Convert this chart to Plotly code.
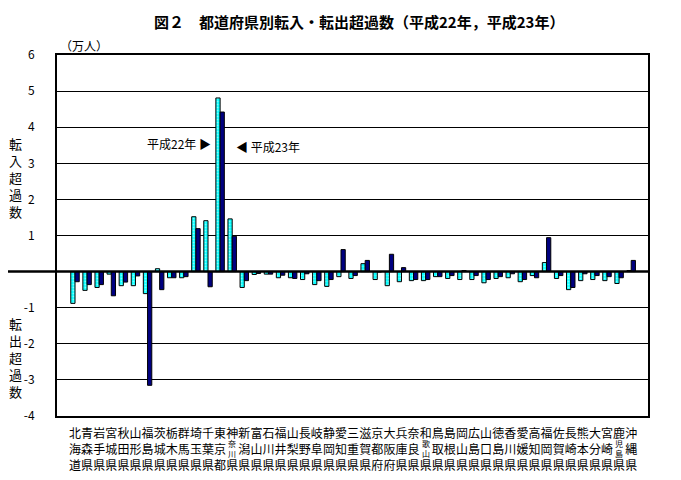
import plotly.graph_objects as go

prefs = ["北海道","青森県","岩手県","宮城県","秋田県","山形県","福島県","茨城県","栃木県","群馬県",
         "埼玉県","千葉県","東京都","神奈川県","新潟県","富山県","石川県","福井県","山梨県","長野県",
         "岐阜県","静岡県","愛知県","三重県","滋賀県","京都府","大阪府","兵庫県","奈良県","和歌山県",
         "鳥取県","島根県","岡山県","広島県","山口県","徳島県","香川県","愛媛県","高知県","福岡県",
         "佐賀県","長崎県","熊本県","大分県","宮崎県","鹿児島県","沖縄県"]

h22 = [-0.88,-0.52,-0.44,-0.07,-0.39,-0.39,-0.61,0.08,-0.17,-0.17,
       1.52,1.41,4.81,1.46,-0.44,-0.08,-0.07,-0.17,-0.17,-0.22,
       -0.36,-0.41,-0.14,-0.19,0.22,-0.22,-0.39,-0.28,-0.25,-0.25,
       -0.14,-0.19,-0.22,-0.22,-0.31,-0.19,-0.17,-0.28,-0.11,0.25,
       -0.19,-0.50,-0.25,-0.22,-0.25,-0.33,0.03]
h23 = [-0.28,-0.36,-0.36,-0.67,-0.29,-0.12,-3.15,-0.50,-0.17,-0.14,
       1.19,-0.42,4.42,0.98,-0.25,-0.05,-0.07,-0.10,-0.19,-0.06,
       -0.25,-0.22,0.61,-0.11,0.31,-0.01,0.48,0.11,-0.22,-0.22,
       -0.14,-0.11,0.03,-0.11,-0.22,-0.14,-0.06,-0.22,-0.17,0.94,
       -0.11,-0.44,-0.06,-0.11,-0.14,-0.17,0.31]

yticks = [-4, -3, -2, -1, 0, 1, 2, 3, 4, 5, 6]
ytick_text = ["-4", "-3", "-2", "-1", "", "1", "2", "3", "4", "5", "6"]

FONT = "Noto Sans CJK JP"
xs = list(range(len(prefs)))

# page offset of the plotly div (default body margin)
OFF = 8
FIG_W, FIG_H = 665, 464
# plot area in page pixels: x 57..648, y 55..416
L, R, T, B = 57 - OFF, 648 - OFF, 55 - OFF, 416 - OFF
W, H = R - L, B - T

def px(x):
    return (x - OFF - L) / W

def py(y):
    return (B - (y - OFF)) / H

def tick_label(name):
    if len(name) == 4:
        return name[0] + "<br> <br>" + name[3]
    return "<br>".join(name)

fig = go.Figure()
fig.add_trace(go.Bar(
    x=xs, y=h22, name="平成22年",
    marker=dict(color="#00FFFF", line=dict(color="black", width=1),
                pattern=dict(shape=".", fgcolor="white", size=3, solidity=0.35)),
))
fig.add_trace(go.Bar(
    x=xs, y=h23, name="平成23年",
    marker=dict(color="#000080", line=dict(color="black", width=1)),
))

def ann(text, x, y, size, **kw):
    d = dict(text=text, x=px(x), y=py(y), xref="paper", yref="paper", showarrow=False,
             xanchor="center", yanchor="middle",
             font=dict(size=size, family=FONT, color="black"))
    d.update(kw)
    return d

annotations = [
    ann("<b>図２　都道府県別転入・転出超過数（平成22年，平成23年）</b>", 359, 21, 15),
    ann("（万人）", 84, 45, 12),
    ann("転<br>入<br>超<br>過<br>数", 15, 177, 13),
    ann("転<br>出<br>超<br>過<br>数", 15, 357, 13),
    ann("平成22年 ▶", 179, 143, 12),
    ann("◀ 平成23年", 268, 146, 12),
]

for i, name in enumerate(prefs):
    if len(name) == 4:
        annotations.append(dict(
            text=name[1] + "<br>" + name[2], x=i, y=py(448),
            xref="x", yref="paper", showarrow=False,
            xanchor="center", yanchor="middle",
            font=dict(size=8, family=FONT, color="black")))

fig.update_layout(
    width=FIG_W, height=FIG_H,
    margin=dict(l=L, r=FIG_W - R, t=T, b=FIG_H - B, autoexpand=False),
    paper_bgcolor="white", plot_bgcolor="white",
    barmode="group", bargap=0.3, bargroupgap=0,
    showlegend=False,
    font=dict(family=FONT, color="black"),
    annotations=annotations,
    shapes=[dict(type="line", xref="paper", yref="paper",
                 x0=px(OFF), x1=1, y0=0.4, y1=0.4,
                 line=dict(color="black", width=2.5))],
)
fig.update_xaxes(
    range=[-1.49, 47.39], tickvals=xs, ticktext=[tick_label(p) for p in prefs],
    showgrid=False, zeroline=False, ticks="", automargin=False,
    showline=True, linecolor="black", linewidth=2, mirror=True,
    ticklabelstandoff=6,
    tickfont=dict(size=12, family=FONT, color="black"), tickangle=0,
)
fig.update_yaxes(
    range=[-4, 6], tickvals=yticks, ticktext=ytick_text,
    showgrid=True, gridcolor="black", gridwidth=1, zeroline=False,
    showline=True, linecolor="black", linewidth=2, mirror=True,
    ticks="", ticklabelstandoff=18, automargin=False,
    tickfont=dict(size=12, family=FONT, color="black"),
)

fig.write_html("out.html")
